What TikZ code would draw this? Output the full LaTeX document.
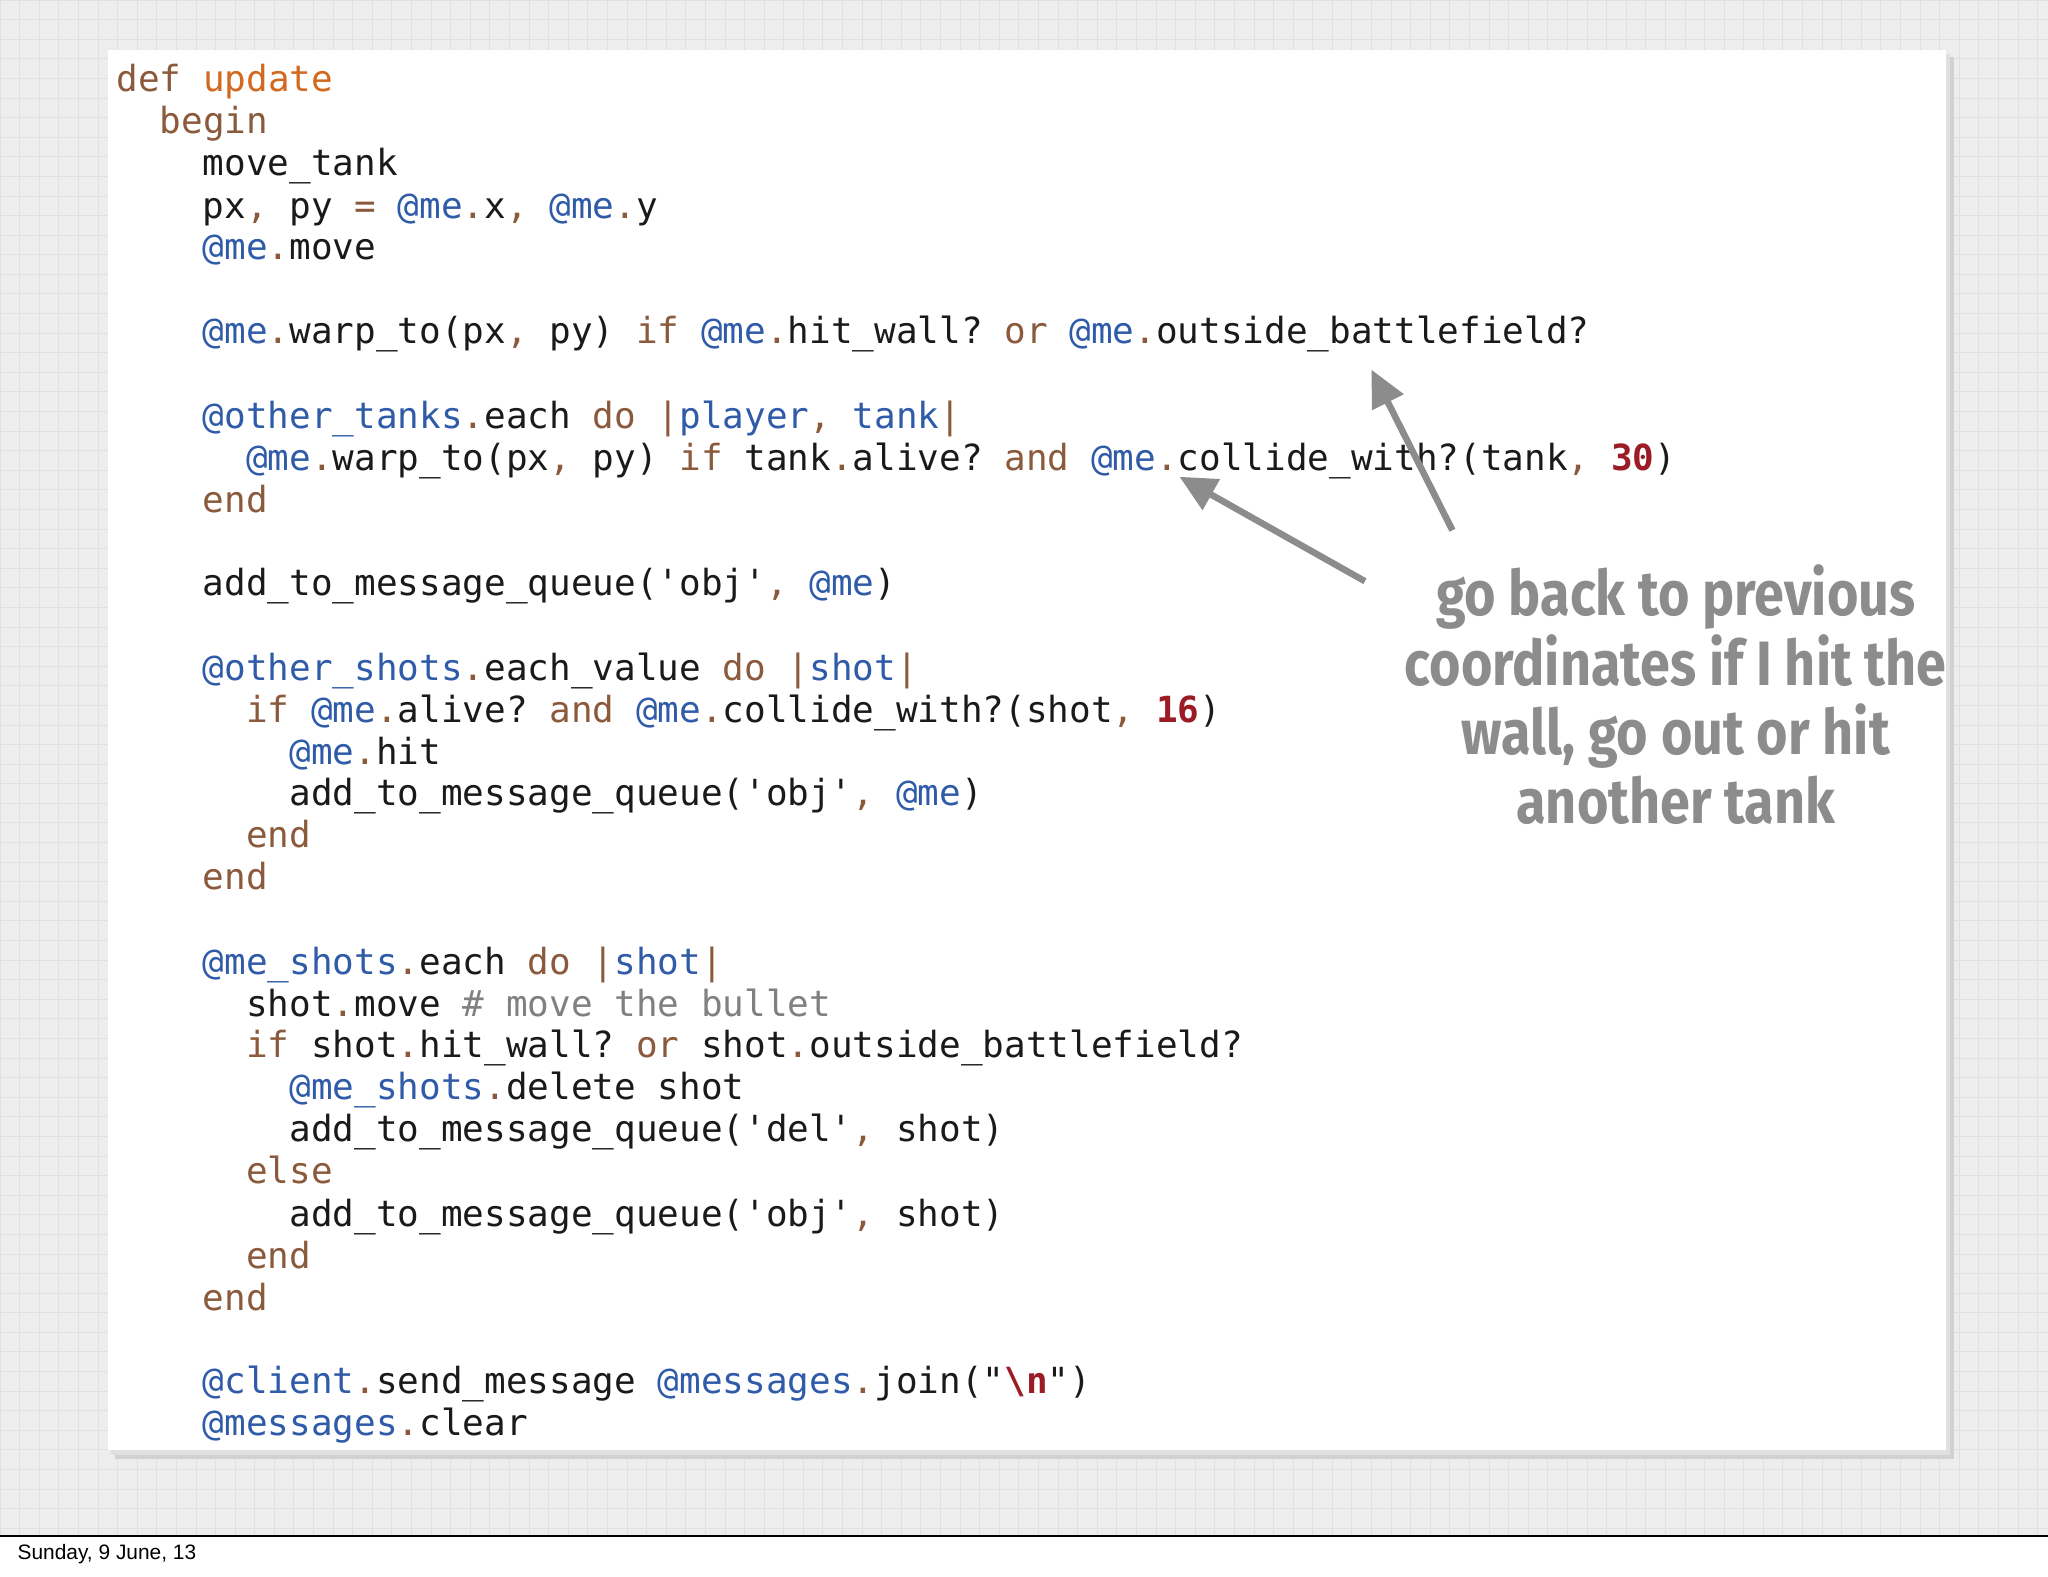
\documentclass[tikz,border=0pt]{standalone}
\usepackage{fontspec}
\usetikzlibrary{arrows.meta}
\setmonofont{DejaVu Sans Mono}
\newfontfamily\hand{Fira Sans}[FakeStretch=0.86]
\newfontfamily\foot{Liberation Sans}
\definecolor{kwc}{HTML}{8B5A3C}
\definecolor{upc}{HTML}{D2691E}
\definecolor{ivc}{HTML}{2F5BA8}
\definecolor{nmc}{HTML}{9B1C24}
\definecolor{cmc}{HTML}{808080}
\definecolor{txc}{HTML}{1A1A1A}
\definecolor{arc}{HTML}{8C8C8C}
\newcommand{\kw}[1]{\textcolor{kwc}{#1}}
\newcommand{\iv}[1]{\textcolor{ivc}{#1}}
\newcommand{\nm}[1]{\textcolor{nmc}{\bfseries #1}}
\newcommand{\dt}{\textcolor{kwc}{.}}
\newcommand{\cm}{\textcolor{kwc}{,}}
\begin{document}
\begin{tikzpicture}[x=1pt,y=-1pt,
  cl/.style={anchor=base west,inner sep=0pt,font=\ttfamily\fontsize{27.55}{30}\selectfont,text=txc},
  note/.style={align=center,text=arc,font=\hand\bfseries\fontsize{48}{53}\selectfont},
  ar/.style={draw=arc,line width=5pt,-{Triangle[width=26pt,length=28pt]}}]
\useasboundingbox (0,0) rectangle (1568,1207);
\fill[white] (0,0) rectangle (1568,1207);
\fill[black!7] (0,0) rectangle (1568,1176);
\foreach \i in {0,15,...,1568} \draw[black!12,line width=0.6pt] (\i,0) -- (\i,1176);
\foreach \j in {0,15,...,1176} \draw[black!12,line width=0.6pt] (0,\j) -- (1568,\j);
\draw[black,line width=0.8pt] (0,1176) -- (1568,1176);
\fill[black!18] (88,44) rectangle (1496,1117);
\fill[black!12] (85,41) rectangle (1493,1114);
\fill[white] (83,38) rectangle (1490,1110);
\def\cw{16.55}
\newcommand{\codeln}[3]{\node[cl] at ({89+#1*\cw},{#2+10}) {#3};}
\codeln{0}{60}{\kw{def} \textcolor{upc}{update}}
\codeln{2}{92}{\kw{begin}}
\codeln{4}{124}{move\_tank}
\codeln{4}{157}{px\cm{} py \kw{=} \iv{@me}\dt x\cm{} \iv{@me}\dt y}
\codeln{4}{189}{\iv{@me}\dt move}
\codeln{4}{253}{\iv{@me}\dt warp\_to(px\cm{} py) \kw{if} \iv{@me}\dt hit\_wall? \kw{or} \iv{@me}\dt outside\_battlefield?}
\codeln{4}{318}{\iv{@other\_tanks}\dt each \kw{do} \kw{|}\iv{player}\cm{} \iv{tank}\kw{|}}
\codeln{6}{350}{\iv{@me}\dt warp\_to(px\cm{} py) \kw{if} tank\dt alive? \kw{and} \iv{@me}\dt collide\_with?(tank\cm{} \nm{30})}
\codeln{4}{382}{\kw{end}}
\codeln{4}{446}{add\_to\_message\_queue('obj'\cm{} \iv{@me})}
\codeln{4}{511}{\iv{@other\_shots}\dt each\_value \kw{do} \kw{|}\iv{shot}\kw{|}}
\codeln{6}{543}{\kw{if} \iv{@me}\dt alive? \kw{and} \iv{@me}\dt collide\_with?(shot\cm{} \nm{16})}
\codeln{8}{575}{\iv{@me}\dt hit}
\codeln{8}{607}{add\_to\_message\_queue('obj'\cm{} \iv{@me})}
\codeln{6}{639}{\kw{end}}
\codeln{4}{671}{\kw{end}}
\codeln{4}{736}{\iv{@me\_shots}\dt each \kw{do} \kw{|}\iv{shot}\kw{|}}
\codeln{6}{768}{shot\dt move \textcolor{cmc}{\# move the bullet}}
\codeln{6}{800}{\kw{if} shot\dt hit\_wall? \kw{or} shot\dt outside\_battlefield?}
\codeln{8}{832}{\iv{@me\_shots}\dt delete shot}
\codeln{8}{864}{add\_to\_message\_queue('del'\cm{} shot)}
\codeln{6}{896}{\kw{else}}
\codeln{8}{929}{add\_to\_message\_queue('obj'\cm{} shot)}
\codeln{6}{961}{\kw{end}}
\codeln{4}{993}{\kw{end}}
\codeln{4}{1057}{\iv{@client}\dt send\_message \iv{@messages}\dt join("\nm{\textbackslash n}")}
\codeln{4}{1089}{\iv{@messages}\dt clear}
\node[note] (n) at (1283,532) {go back to previous\\coordinates if I hit the\\wall, go out or hit\\another tank};
\coordinate (a1s) at (1112,406);
\coordinate (a1e) at (1050,283);
\coordinate (a2s) at (1045,445);
\coordinate (a2e) at (903,365);
\draw[ar] (a1s) -- (a1e);
\draw[ar] (a2s) -- (a2e);
\node[anchor=west,font=\foot\fontsize{16}{18}\selectfont] (d) at (10,1190) {Sunday, 9 June, 13};
\end{tikzpicture}
\end{document}
